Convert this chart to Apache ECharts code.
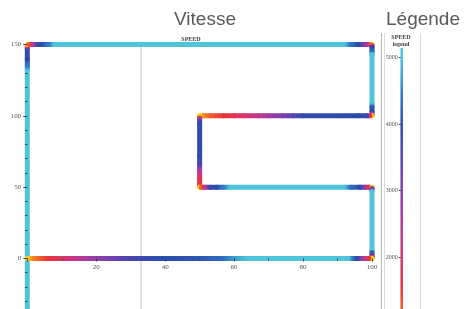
<!DOCTYPE html>
<html>
<head>
<meta charset="utf-8">
<script src="https://cdn.jsdelivr.net/npm/echarts@6/dist/echarts.min.js"></script>
<style>
  html, body { margin: 0; padding: 0; background: #fff; }
  #chart { width: 464px; height: 309px; }
</style>
</head>
<body>
<div id="chart"></div>
<script>
// trajet (x, y) et vitesse en chaque point
var pathX = [
  0, 2, 6, 12, 17, 22, 28, 33, 38, 50, 56, 61, 64, 93, 95.5, 97.5, 99, 100,   // y = 0
  100, 100, 100, 100, 100, 100, 100,                                          // x = 100 (0 -> 50)
  99, 98, 96.5, 94, 92, 59, 57, 55, 53, 51.5, 50.5, 50,                       // y = 50
  50, 50, 50, 50, 50, 50, 50, 50, 50, 50,                                     // x = 50
  51, 53, 57, 60, 63, 67, 70, 74, 77, 80, 96, 98.5, 99.4, 100,                // y = 100
  100, 100, 100, 100, 100, 100, 100, 100, 100,                                // x = 100 (100 -> 150)
  99.3, 98, 96, 94, 92, 8, 6, 3, 1.5, 0.5, 0,                                 // y = 150
  0, 0, 0, 0, 0, 0                                                            // x = 0
];
var pathY = [
  0, 0, 0, 0, 0, 0, 0, 0, 0, 0, 0, 0, 0, 0, 0, 0, 0, 0,
  1, 2, 4, 6, 47, 49, 50,
  50, 50, 50, 50, 50, 50, 50, 50, 50, 50, 50, 50,
  52, 56, 59, 62, 66, 72, 95, 97, 98.5, 100,
  100, 100, 100, 100, 100, 100, 100, 100, 100, 100, 100, 100, 100, 100,
  101, 103, 106, 109, 143, 145.5, 148, 149.3, 150,
  150, 150, 150, 150, 150, 150, 150, 150, 150, 150, 150,
  149, 147, 140, 135, 132, -45
];
var pathSpeed = [
  500, 1000, 1500, 2100, 2600, 3000, 3500, 3800, 4000, 4100, 4300, 4800, 5000, 5000, 4000, 2500, 1500, 500,
  1800, 3500, 4200, 5000, 5000, 3000, 500,
  1800, 3000, 4000, 4300, 5000, 5000, 4500, 4000, 3800, 2200, 1200, 500,
  1500, 1700, 2200, 2800, 3600, 4000, 3900, 3200, 1800, 500,
  900, 1200, 1500, 1700, 2000, 2300, 2700, 3100, 3500, 3900, 4000, 3800, 1500, 500,
  2500, 3900, 4200, 5000, 5000, 4200, 3800, 2000, 500,
  1800, 3000, 4000, 4400, 5000, 5000, 4400, 3800, 2200, 1200, 500,
  2000, 3800, 4000, 4500, 5000, 5000
];
var cursorX = 33;

// échelle de couleurs de la légende (vitesse 500 -> 5000)
var speedColors = ['#f5d21e', '#f27a22', '#e8343a', '#d6356f', '#b23a98', '#853fae',
                   '#5544b0', '#2b4cab', '#2f80c7', '#50c4dc'];
var speedMin = 500, speedMax = 5000;
var legendSpeed = [500, 5140];

function colorOf(s) {
  var t = (s - speedMin) / (speedMax - speedMin);
  t = Math.max(0, Math.min(1, t));
  return echarts.color.lerp(t, speedColors);
}

// segments [x1, y1, x2, y2, v1, v2]
var segments = [];
for (var i = 0; i < pathX.length - 1; i++) {
  segments.push([pathX[i], pathY[i], pathX[i + 1], pathY[i + 1], pathSpeed[i], pathSpeed[i + 1]]);
}
segments.reverse();

var legendSegs = [[0, legendSpeed[0], 0, legendSpeed[1], legendSpeed[0], legendSpeed[1]]];

function makeRender(width, steps, cap) {
  return function (params, api) {
    var p1 = api.coord([api.value(0), api.value(1)]);
    var p2 = api.coord([api.value(2), api.value(3)]);
    var s1 = api.value(4), s2 = api.value(5);
    var stops = [];
    for (var k = 0; k <= steps; k++) {
      stops.push({ offset: k / steps, color: colorOf(s1 + (s2 - s1) * k / steps) });
    }
    return {
      type: 'line',
      shape: { x1: p1[0], y1: p1[1], x2: p2[0], y2: p2[1] },
      style: {
        stroke: new echarts.graphic.LinearGradient(p1[0], p1[1], p2[0], p2[1], stops, true),
        lineWidth: width,
        lineCap: cap
      }
    };
  };
}

var serif = 'Liberation Serif';
var gridTop = 44.5, gridHeight = 285.3;
var myChart = echarts.init(document.getElementById('chart'));
var option = {
  animation: false,
  grid: [
    { left: 27.3, width: 344.7, top: gridTop, height: gridHeight, outerBoundsMode: 'none', containLabel: false },
    { left: 401.7, width: 10, top: 57.3, height: 266.7, outerBoundsMode: 'none', containLabel: false }
  ],
  xAxis: [
    {
      gridIndex: 0, type: 'value', min: 0, max: 100, interval: 20, z: 3,
      position: 'bottom',
      // axe placé sur y = 0 (50 unités au-dessus du bas de la grille)
      offset: -gridHeight * 50 / 200,
      axisLine: { show: false, onZero: false },
      axisTick: { show: true, length: 3, lineStyle: { color: '#444' } },
      minorTick: { show: true, splitNumber: 2, length: 2, lineStyle: { color: '#444' } },
      splitLine: { show: false },
      axisLabel: {
        margin: 5, fontSize: 7, color: '#555', fontFamily: serif,
        formatter: function (v) { return v === 0 ? '' : String(v); }
      }
    },
    { gridIndex: 1, type: 'value', min: 0, max: 1, show: false }
  ],
  yAxis: [
    {
      gridIndex: 0, type: 'value', min: -50, max: 150, interval: 50, z: 3,
      axisLine: { show: false, onZero: false },
      axisTick: { show: true, length: 4, lineStyle: { color: '#444' } },
      minorTick: { show: true, splitNumber: 5, length: 2, lineStyle: { color: '#333' } },
      splitLine: { show: false },
      axisLabel: { margin: 6, fontSize: 7, color: '#555', fontFamily: serif,
        formatter: function (v) { return String(v); } }
    },
    {
      gridIndex: 1, type: 'value', min: 1000, max: 5000, interval: 1000,
      axisLine: { show: false },
      axisTick: { show: true, length: 3, lineStyle: { color: '#555' } },
      splitLine: { show: false },
      axisLabel: { margin: 4, fontSize: 6, color: '#555', fontFamily: serif,
        formatter: function (v) { return String(v); } }
    }
  ],
  graphic: [
    { type: 'text', x: 205, y: 20, style: { text: 'Vitesse', font: '19px "Liberation Sans"', fill: '#595959', align: 'center', verticalAlign: 'middle' } },
    { type: 'text', x: 423, y: 20, style: { text: 'Légende', font: '19px "Liberation Sans"', fill: '#595959', align: 'center', verticalAlign: 'middle' } },
    { type: 'text', x: 191, y: 39, style: { text: 'SPEED', font: 'bold 6px "Liberation Serif"', fill: '#444', align: 'center', verticalAlign: 'middle' } },
    { type: 'text', x: 401, y: 37, style: { text: 'SPEED', font: 'bold 6px "Liberation Serif"', fill: '#444', align: 'center', verticalAlign: 'middle' } },
    { type: 'text', x: 401, y: 44.5, style: { text: 'legend', font: 'bold 6px "Liberation Serif"', fill: '#444', align: 'center', verticalAlign: 'middle' } },
    { type: 'line', shape: { x1: 381.5, y1: 33, x2: 381.5, y2: 309 }, style: { stroke: '#b8b8b8', lineWidth: 1 } },
    { type: 'line', shape: { x1: 384.5, y1: 33, x2: 384.5, y2: 309 }, style: { stroke: '#dcdcdc', lineWidth: 1 } },
    { type: 'line', shape: { x1: 420.5, y1: 33, x2: 420.5, y2: 309 }, style: { stroke: '#dcdcdc', lineWidth: 1 } }
  ],
  series: [
    {
      type: 'line', xAxisIndex: 0, yAxisIndex: 0, z: 1, silent: true,
      symbol: 'none', clip: false,
      lineStyle: { color: '#c8c8c8', width: 1 },
      data: [[cursorX, 150], [cursorX, -50]]
    },
    {
      type: 'custom', xAxisIndex: 0, yAxisIndex: 0, z: 2, clip: false,
      renderItem: makeRender(5, 8, 'round'),
      data: segments
    },
    {
      type: 'custom', xAxisIndex: 1, yAxisIndex: 1, z: 2, clip: false,
      renderItem: makeRender(2.5, 40, 'butt'),
      data: legendSegs
    }
  ]
};
myChart.setOption(option);
</script>
</body>
</html>
